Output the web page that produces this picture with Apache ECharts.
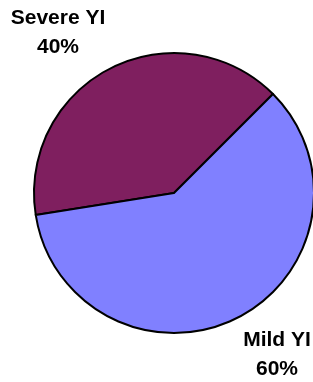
<!DOCTYPE html>
<html>
<head>
<meta charset="utf-8">
<script src="https://cdn.jsdelivr.net/npm/echarts@6/dist/echarts.min.js"></script>
<style>
html,body{margin:0;padding:0;background:#fff;}
#chart{width:313px;height:382px;}
</style>
</head>
<body>
<div id="chart"></div>
<script>
const categories = ['Severe YI', 'Mild YI'];
const values = [40, 60];

const sliceColors = ['#7F1F5F', '#8080FF'];
const labelPos = [[58, 33], [277, 355]];

const chart = echarts.init(document.getElementById('chart'), null, {renderer: 'canvas'});
chart.setOption({
  animation: false,
  backgroundColor: '#ffffff',
  series: [{
    type: 'pie',
    center: [174, 193],
    radius: 140,
    startAngle: 189,
    clockwise: true,
    data: categories.map((c, i) => ({name: c, value: values[i], itemStyle: {color: sliceColors[i]}})),
    itemStyle: {borderColor: '#000', borderWidth: 2},
    emphasis: {disabled: true},
    label: {
      show: true,
      position: 'outside',
      alignTo: 'none',
      overflow: 'none',
      bleedMargin: 0,
      formatter: '{b}\n{c}%',
      fontFamily: 'Liberation Sans, Arial, sans-serif',
      fontWeight: 'bold',
      fontSize: 21,
      lineHeight: 29,
      color: '#000',
      align: 'center'
    },
    labelLine: {show: false},
    labelLayout: function (params) {
      const p = labelPos[params.dataIndex];
      return {x: p[0], y: p[1], align: 'center', verticalAlign: 'middle', width: 120};
    }
  }]
});
</script>
</body>
</html>
